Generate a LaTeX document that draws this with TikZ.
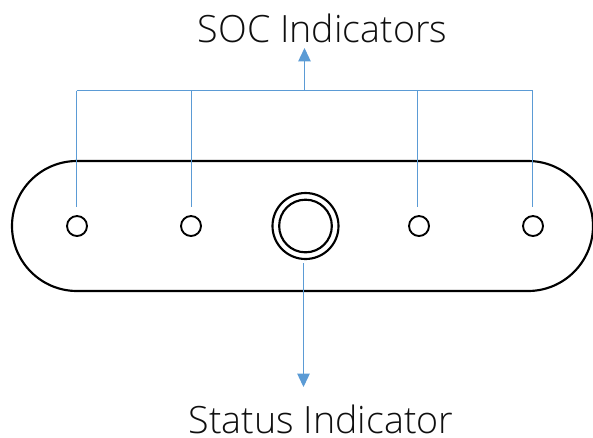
\documentclass[tikz,border=0pt]{standalone}
\usepackage{fontspec}
\setmainfont{Open Sans Light}
\usetikzlibrary{arrows.meta}
\definecolor{linkblue}{RGB}{91,155,213}
\definecolor{inkgrey}{RGB}{15,15,15}
\tikzset{
  px/.style={x=0.75pt,y=-0.75pt},
  bodyline/.style={draw=black,line width=1.6pt},
  led/.style={circle,draw=black,line width=1.4pt,minimum size=15pt,inner sep=0pt},
  link/.style={draw=linkblue,line width=0.85pt},
  tiplink/.style={link,-{Triangle[length=10pt,width=9.3pt]}},
  caption/.style={text=inkgrey,font=\fontsize{28.2}{34}\selectfont,inner sep=0pt,anchor=base}
}
\begin{document}
\begin{tikzpicture}[px]
\useasboundingbox (0,0) rectangle (593,437);
\path[bodyline] (77,161) -- (528,161) arc[start angle=-90,end angle=90,radius=65] -- (77,291) arc[start angle=90,end angle=270,radius=65] -- cycle;
\node[led] (a) at (77,226) {};
\node[led] (b) at (191,226) {};
\node[led] (c) at (419,226) {};
\node[led] (d) at (533,226) {};
\node[circle,draw=black,line width=1.6pt,minimum size=49.5pt,inner sep=0pt] (outer) at (305.5,226) {};
\node[circle,draw=black,line width=1.6pt,minimum size=39.5pt,inner sep=0pt] (inner) at (305.5,226) {};
\node[caption] (soc) at (322.5,42) {SOC Indicators};
\node[caption] (status) at (321,433) {Status Indicator};
\coordinate (ta) at (76.5,90.5);
\coordinate (td) at (532.5,90.5);
\coordinate (tm) at (304.5,90.5);
\coordinate (tb) at (191.5,90.5);
\coordinate (tc) at (417.5,90.5);
\coordinate (ba) at (76.5,207);
\coordinate (bb) at (191.5,207);
\coordinate (bc) at (417.5,207);
\coordinate (bd) at (532.5,207);
\coordinate (up) at (304.5,48);
\coordinate (s1) at (303.5,263);
\coordinate (s2) at (303.5,387);
\draw[link] (ta) -- (td);
\draw[link] (ta) -- (ba);
\draw[link] (tb) -- (bb);
\draw[link] (tc) -- (bc);
\draw[link] (td) -- (bd);
\draw[tiplink] (tm) -- (up);
\draw[tiplink] (s1) -- (s2);
\end{tikzpicture}
\end{document}
